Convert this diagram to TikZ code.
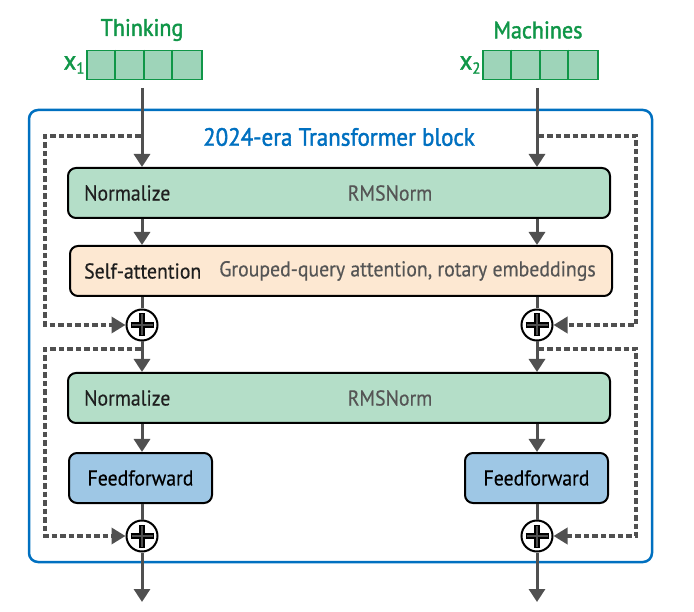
\documentclass[tikz,border=0pt]{standalone}
\usepackage{fontspec}
\setmainfont{PT Sans}[FakeStretch=0.92, FakeBold=0.4]
\newfontfamily\medfont{PT Sans}[FakeStretch=0.92, FakeBold=1.6]
\usetikzlibrary{arrows.meta}
\definecolor{tgreen}{RGB}{16,150,72}
\definecolor{cellfill}{RGB}{158,212,185}
\definecolor{normfill}{RGB}{180,222,200}
\definecolor{attnfill}{RGB}{253,232,210}
\definecolor{fffill}{RGB}{158,199,229}
\definecolor{tblue}{RGB}{0,112,192}
\definecolor{arrowgray}{RGB}{80,80,80}
\definecolor{dashgray}{RGB}{80,80,80}
\definecolor{subtext}{RGB}{85,85,85}
\tikzset{
  wide/.style={draw=black, line width=2pt, rounded corners=8pt, minimum width=542pt, minimum height=50pt, inner sep=0pt},
  ffbox/.style={draw=black, line width=2pt, rounded corners=8pt, fill=fffill, minimum width=143pt, minimum height=50pt, inner sep=0pt, font=\fontsize{21.5}{24}\selectfont},
  conn/.style={draw=arrowgray, line width=3pt, -{Triangle[length=13pt,width=16pt]}},
  plainline/.style={draw=arrowgray, line width=3pt},
  residual/.style={draw=dashgray, line width=3.4pt, line cap=butt, dash pattern=on 5.5pt off 3pt, -{Triangle[length=14pt,width=16pt]}},
  addnode/.style={circle, draw=black, line width=2pt, fill=white, minimum size=31pt, inner sep=0pt},
  inbox/.style={draw=tgreen, line width=1.8pt, fill=cellfill, minimum width=115pt, minimum height=29pt, inner sep=0pt},
  glabel/.style={text=tgreen, font=\fontsize{24}{28}\medfont},
  body/.style={font=\fontsize{21.5}{24}\selectfont, text=black!88, inner sep=0pt},
  sub/.style={font=\fontsize{21.5}{24}\selectfont, text=subtext, inner sep=0pt},
}
\newcommand{\plusmark}[1]{%
  \draw[line width=5.5pt, black] ([xshift=-11.5pt]#1.center) -- ([xshift=11.5pt]#1.center);
  \draw[line width=5.5pt, black] ([yshift=-11.5pt]#1.center) -- ([yshift=11.5pt]#1.center);
  \draw[line width=2.5pt, arrowgray] ([xshift=-10.5pt]#1.center) -- ([xshift=10.5pt]#1.center);
  \draw[line width=2.5pt, arrowgray] ([yshift=-10.5pt]#1.center) -- ([yshift=10.5pt]#1.center);
}
\begin{document}
\begin{tikzpicture}[x=1pt,y=-1pt]
\useasboundingbox (0,0) rectangle (694,612);
% frame
\draw[tblue, line width=2.5pt, rounded corners=9pt] (29,110) rectangle (652,562);
\node[text=tblue, font=\fontsize{25}{28}\medfont] (title) at (339,137) {2024-era Transformer block};

% inputs
\node[glabel] (w1) at (142,30) {Thinking};
\node[glabel] (w2) at (538,30) {Machines};
\node[inbox] (in1) at (144.5,65) {};
\node[inbox] (in2) at (540.5,65) {};
\foreach \n in {in1,in2}{
  \foreach \i in {1,2,3}{
    \draw[tgreen, line width=1.8pt] ([xshift=\i*28.75pt]\n.north west) -- ([xshift=\i*28.75pt]\n.south west);
  }
}
\node[text=tgreen, font=\fontsize{27}{30}\medfont, anchor=east, inner sep=1.5pt] (x1) at (in1.west) {x\raisebox{-4pt}{\fontsize{16}{18}\medfont 1}};
\node[text=tgreen, font=\fontsize{27}{30}\medfont, anchor=east, inner sep=1.5pt] (x2) at (in2.west) {x\raisebox{-4pt}{\fontsize{16}{18}\medfont 2}};

% column coordinates
\coordinate (c1) at (142,88);
\coordinate (c2) at (537,88);

% boxes
\node[wide, fill=normfill] (n1) at (339,193) {};
\node[body, anchor=west] (n1t) at (84,193) {Normalize};
\node[sub] (n1s) at (390,193) {RMSNorm};

\node[wide, fill=attnfill] (sa) at (341,271) {};
\node[body, anchor=west] (sat) at (84,271) {Self-attention};
\node[sub] (sas) at (407.5,271) {Grouped-query attention, rotary embeddings};

\node[addnode] (p1) at (142,325) {};
\node[addnode] (p2) at (537,325) {};

\node[wide, fill=normfill] (n2) at (339,398) {};
\node[body, anchor=west] (n2t) at (84,398) {Normalize};
\node[sub] (n2s) at (390,398) {RMSNorm};

\node[ffbox] (f1) at (140.5,478) {Feedforward};
\node[ffbox] (f2) at (536.5,478) {Feedforward};

\node[addnode] (q1) at (142,536) {};
\node[addnode] (q2) at (537,536) {};

\coordinate (o1) at (142,602);
\coordinate (o2) at (537,602);

% main flow
\foreach \c/\p/\q/\o/\f in {c1/p1/q1/o1/f1, c2/p2/q2/o2/f2}{
  \draw[conn] (\c) -- (n1.north -| \c);
  \draw[conn] (n1.south -| \c) -- (sa.north -| \c);
  \draw[plainline] (sa.south -| \c) -- (\p.north);
  \draw[conn] (\p.south) -- (n2.north -| \c);
  \draw[conn] (n2.south -| \c) -- (\f.north -| \c);
  \draw[plainline] (\f.south -| \c) -- (\q.north);
  \draw[conn] (\q.south) -- (\o);
}

% residuals
\coordinate (r1a) at (140.5,136);
\coordinate (r1b) at (45,325);
\coordinate (r2a) at (140.5,349);
\coordinate (r2b) at (45,536);
\coordinate (r3a) at (538.5,136);
\coordinate (r3b) at (636,325);
\coordinate (r4a) at (538.5,349);
\coordinate (r4b) at (636,536);
\draw[residual] (r1a) -| (r1b) -- (p1.west);
\draw[residual] (r2a) -| (r2b) -- (q1.west);
\draw[residual] (r3a) -| (r3b) -- (p2.east);
\draw[residual] (r4a) -| (r4b) -- (q2.east);

\plusmark{p1}
\plusmark{p2}
\plusmark{q1}
\plusmark{q2}
\end{tikzpicture}
\end{document}
